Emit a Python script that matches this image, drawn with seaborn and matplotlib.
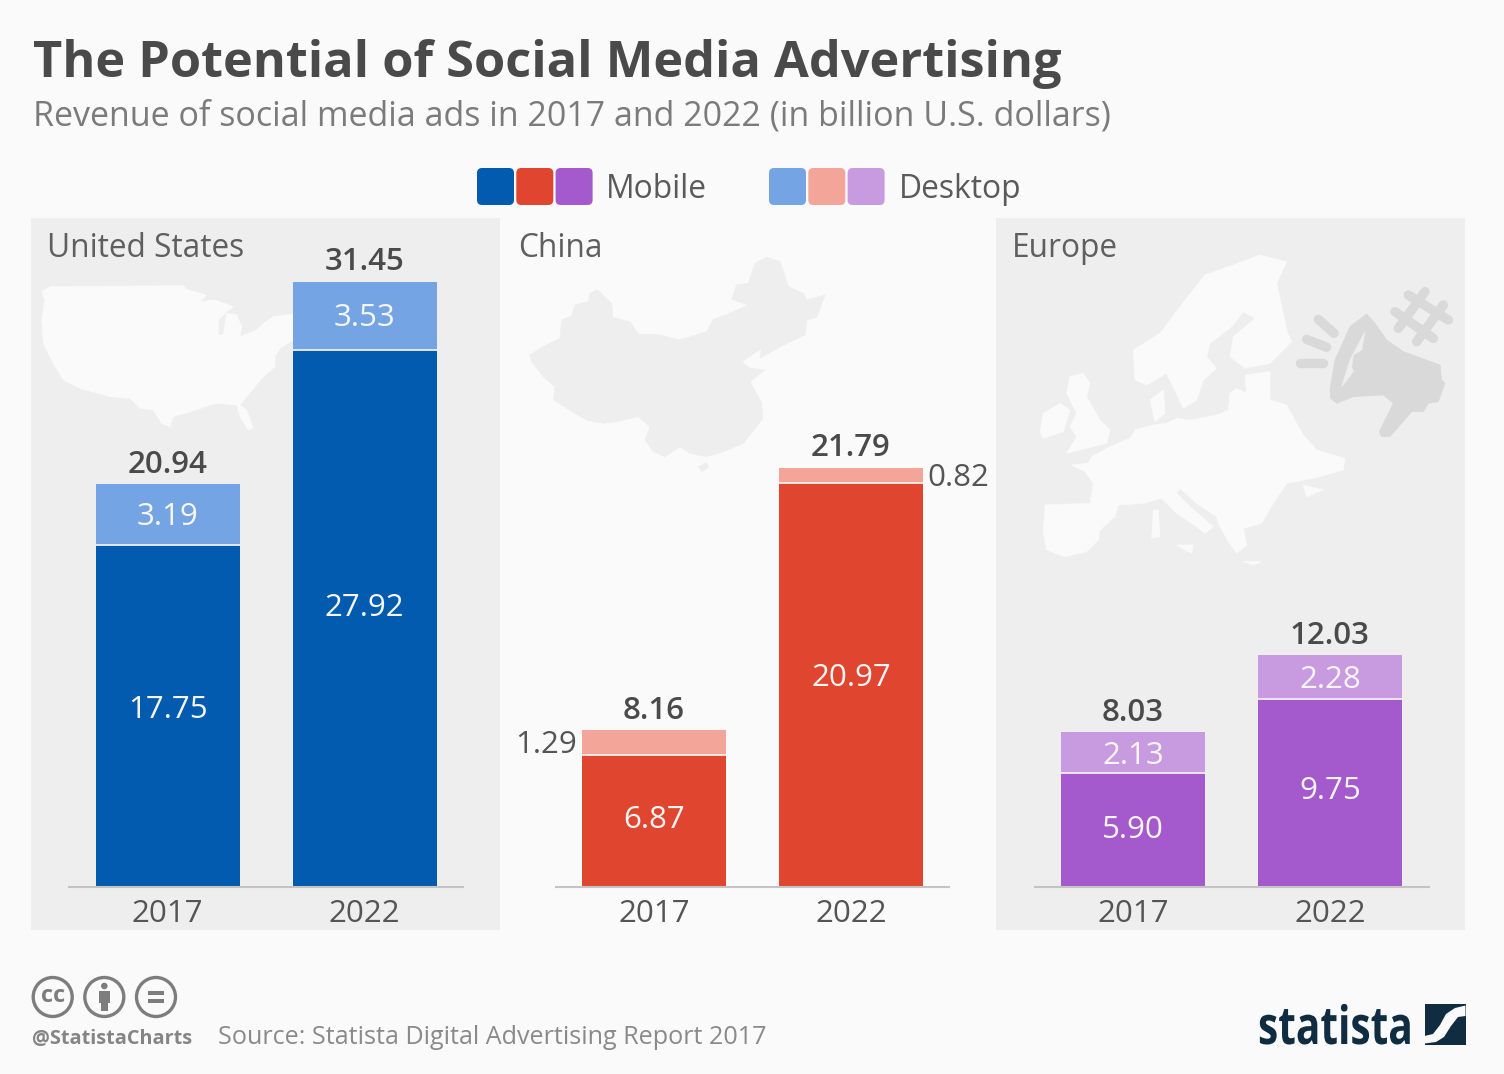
import numpy as np
import pandas as pd
import matplotlib
matplotlib.use("Agg")
import matplotlib.pyplot as plt
from matplotlib.patches import Circle, FancyBboxPatch, Polygon, Rectangle
from matplotlib.patheffects import AbstractPathEffect
from matplotlib.transforms import Affine2D
import seaborn as sns

# chart values, billion USD
years = ["2017", "2022"]
us_mobile = [17.75, 27.92]
us_desktop = [3.19, 3.53]
us_total = [20.94, 31.45]
china_mobile = [6.87, 20.97]
china_desktop = [1.29, 0.82]
china_total = [8.16, 21.79]
europe_mobile = [5.90, 9.75]
europe_desktop = [2.13, 2.28]
europe_total = [8.03, 12.03]

regions = ["United States", "China", "Europe"]
mobile_colors = ["#035bb0", "#e0462f", "#a45acc"]
desktop_colors = ["#74a4e3", "#f3a59a", "#c89be0"]

BG = "#fafafa"
PANEL = "#eeeeee"
DARK = "#4a4a4a"
GREY = "#7b7b7b"
W, H = 1504, 1074

# map outlines, in 3x crop coordinates
us_map = [(35,215),(60,200),(460,197),(470,208),(530,225),(510,245),(555,240),(610,260),(590,275),(565,300),(565,345),(580,345),(590,280),(620,285),(635,320),(630,350),(680,330),(700,310),(730,290),(790,282),(790,360),(750,385),(735,410),(735,440),(700,470),(650,530),(630,555),(650,570),(670,625),(655,630),(630,590),(620,555),(560,550),(480,575),(430,590),(420,620),(395,610),(370,570),(330,565),(300,535),(240,530),(150,505),(100,480),(70,430),(40,370),(35,300),(45,240)]
china_map = [(60,375),(100,350),(150,325),(155,270),(185,258),(195,225),(235,215),(240,190),(262,180),(305,220),(308,262),(360,275),(385,312),(450,315),(510,330),(590,305),(610,268),(660,250),(715,225),(665,208),(680,165),(715,160),(735,100),(770,82),(810,95),(835,170),(880,190),(890,210),(945,195),(920,262),(890,270),(885,315),(820,345),(750,385),(755,355),(695,395),(720,415),(765,420),(720,455),(755,520),(758,565),(700,640),(640,665),(590,680),(540,670),(510,650),(465,680),(430,665),(405,630),(420,590),(385,560),(320,575),(280,580),(230,570),(180,540),(130,510),(135,470),(100,440),(65,395)]
hainan = [(565,710),(590,698),(595,712),(575,725)]
europe_main = [(155,675),(205,670),(215,650),(270,620),(330,595),(345,570),(400,555),(440,550),(470,535),(510,540),(590,525),(625,510),(630,460),(650,445),(680,460),(675,405),(750,395),(750,480),(800,495),(835,560),(850,585),(890,630),(975,655),(970,690),(900,710),(830,725),(800,730),(760,790),(725,850),(670,865),(680,915),(650,940),(625,905),(595,850),(590,830),(530,790),(480,745),(470,760),(510,800),(580,860),(555,880),(530,860),(470,820),(425,775),(370,790),(295,795),(285,830),(240,870),(235,900),(200,935),(135,950),(80,930),(70,880),(75,795),(210,790),(220,730),(195,695)]
scandinavia = [(340,330),(420,280),(480,200),(555,105),(640,75),(720,45),(800,65),(770,130),(790,220),(800,270),(815,305),(750,370),(675,385),(630,350),(640,290),(705,235),(670,215),(635,260),(570,310),(560,350),(590,385),(550,420),(530,480),(490,505),(440,400),(380,435),(345,420)]
europe_bits = [
    [(150,410),(190,400),(210,430),(200,470),(240,540),(270,570),(260,610),(200,625),(140,640),(170,590),(150,560),(170,520),(140,460)],
    [(70,520),(120,490),(150,510),(130,575),(70,595),(60,575)],
    [(390,480),(430,450),(435,520),(405,545)],
    [(400,810),(415,810),(420,890),(395,895)],
    [(470,915),(520,915),(515,940)],
    [(850,735),(910,750),(860,770)],
    [(670,965),(725,965),(700,975)],
]
horn = [(930,450),(945,360),(990,260),(1040,222),(1065,250),(1100,300),(1150,335),(1260,375),(1265,420),(1275,430),(1255,485),(1225,490),(1210,515),(1175,515),(1110,590),(1085,590),(1078,575),(1120,490),(1090,465),(1000,470),(950,490),(932,475)]
horn_hole = [(965,440),(990,360),(1035,275),(1025,330),(1000,345),(995,380),(1000,395)]

sns.set_theme(style="white")
plt.rcParams["font.family"] = ["Open Sans", "DejaVu Sans"]
plt.rcParams["axes.unicode_minus"] = False

fig = plt.figure(figsize=(W / 100, H / 100), dpi=100, facecolor=BG)


class SqueezeX(AbstractPathEffect):
    # narrows a text around x0, no condensed font is installed
    def __init__(self, x0, factor):
        super().__init__()
        self.x0 = x0
        self.factor = factor

    def draw_path(self, renderer, gc, tpath, affine, rgbFace=None):
        squeeze = Affine2D().translate(-self.x0, 0).scale(self.factor, 1).translate(self.x0, 0)
        renderer.draw_path(gc, tpath, affine + squeeze, rgbFace)


def px_axes(left, top, right, bottom):
    return fig.add_axes([left / W, 1 - bottom / H, (right - left) / W, (bottom - top) / H])


# background layer in pixel coordinates
bg = px_axes(0, 0, W, H)
bg.set_xlim(0, W)
bg.set_ylim(H, 0)
bg.axis("off")


def crop_poly(points, x0, y0, color, z=1):
    pts = [(x0 + x / 3, y0 + y / 3) for x, y in points]
    bg.add_patch(Polygon(pts, closed=True, fc=color, ec=color, lw=0.5, zorder=z))


bg.add_patch(Rectangle((31, 218), 469, 712, fc=PANEL, ec="none", zorder=0))
bg.add_patch(Rectangle((996, 218), 469, 712, fc=PANEL, ec="none", zorder=0))

crop_poly(us_map, 30, 220, BG)
crop_poly(china_map, 510, 230, PANEL)
crop_poly(hainan, 510, 230, PANEL)
crop_poly(europe_main, 1020, 240, BG)
crop_poly(scandinavia, 1020, 240, BG)
for bit in europe_bits:
    crop_poly(bit, 1020, 240, BG)

# megaphone and hashtag
ICON = "#d9d9d9"
crop_poly(horn, 1020, 240, ICON, z=2)
crop_poly(horn_hole, 1020, 240, PANEL, z=3)
for (xa, ya), (xb, yb) in [((895, 238), (942, 280)), ((860, 298), (920, 322)), ((840, 370), (910, 370)),
                           ((1125, 215), (1240, 295)), ((1165, 165), (1285, 240)),
                           ((1215, 155), (1135, 265)), ((1270, 195), (1190, 305))]:
    bg.plot([1020 + xa / 3, 1020 + xb / 3], [240 + ya / 3, 240 + yb / 3], color=ICON, lw=6.8,
            solid_capstyle="round", zorder=2)

# title block
bg.text(33, 64, "The Potential of Social Media Advertising", fontsize=36.35, fontweight="bold",
        color=DARK, va="center", ha="left")
bg.text(33, 116.5, "Revenue of social media ads in 2017 and 2022 (in billion U.S. dollars)", fontsize=24.45,
        color=GREY, va="center", ha="left")

# legend swatches
for x_start, colors, label, x_label in [(477, mobile_colors, "Mobile", 606), (769, desktop_colors, "Desktop", 899)]:
    for i, c in enumerate(colors):
        bg.add_patch(FancyBboxPatch((x_start + 3 + i * 39.3, 171), 31, 31, boxstyle="round,pad=3,rounding_size=5",
                                    fc=c, ec="none", zorder=2))
    bg.text(x_label, 190, label, fontsize=22.9, color="#5a5a5a", va="center", ha="left")

# bar panels
PX_PER_UNIT = 19.25
BAR_STEP = 197
BASELINE = 887
title_offsets = [16, 18.5, 16]
panels = [
    (31, 500, 167.6, us_mobile, us_desktop, us_total),
    (500, 996, 654, china_mobile, china_desktop, china_total),
    (996, 1465, 1133, europe_mobile, europe_desktop, europe_total),
]
LABEL_SIZE = 22.5

for i, (left, right, first_center, mobile, desktop, total) in enumerate(panels):
    ax = px_axes(left, 218, right, 930)
    ax.patch.set_alpha(0)
    df = pd.DataFrame({"year": years, "mobile": mobile, "desktop": desktop, "total": total})
    sns.barplot(data=df, x="year", y="total", color=desktop_colors[i], saturation=1, width=0.731, linewidth=0, ax=ax)
    sns.barplot(data=df, x="year", y="mobile", color=mobile_colors[i], saturation=1, width=0.731, linewidth=0, ax=ax)
    ax.set_xlim((left - first_center) / BAR_STEP, (right - first_center) / BAR_STEP)
    ax.set_ylim((BASELINE - 930) / PX_PER_UNIT, (BASELINE - 218) / PX_PER_UNIT)
    sns.despine(ax=ax, left=True)
    ax.spines["bottom"].set_position(("data", 0))
    ax.spines["bottom"].set_bounds(-0.5, 1.5)
    ax.spines["bottom"].set_color("#c4c4c4")
    ax.spines["bottom"].set_linewidth(1.5)
    ax.spines["bottom"].set_zorder(5)
    ax.set_xlabel("")
    ax.set_ylabel("")
    ax.set_yticks([])
    ax.tick_params(axis="x", length=0, pad=9, labelsize=LABEL_SIZE, labelcolor="#555555")
    ax.hlines(mobile, [-0.3655, 0.6345], [0.3655, 1.3655], color="#f0f0f0", lw=1.3, zorder=5)

    ax.text(title_offsets[i] / (right - left), 0.9625, regions[i], transform=ax.transAxes,
            fontsize=22.8, color="#5f5f5f", ha="left", va="center_baseline")

    for j in range(2):
        ax.annotate(f"{total[j]:.2f}", (j, total[j]), xytext=(0, 3), textcoords="offset points", ha="center",
                    va="bottom", fontsize=LABEL_SIZE, fontweight="semibold", color=DARK)
        ax.annotate(f"{mobile[j]:.2f}", (j, mobile[j] * 0.525), xytext=(0, -2), textcoords="offset points",
                    ha="center", va="center", fontsize=LABEL_SIZE, color="#f6f6f6")
        d_y = mobile[j] + desktop[j] / 2
        if i == 1:
            side = -1 if j == 0 else 1
            ax.annotate(f"{desktop[j]:.2f}", (j + side * 0.3655, d_y), xytext=(side * 3.5, -2),
                        textcoords="offset points", ha="right" if j == 0 else "left", va="center",
                        fontsize=LABEL_SIZE, color="#555555")
        else:
            ax.annotate(f"{desktop[j]:.2f}", (j, d_y), xytext=(0, -2), textcoords="offset points",
                        ha="center", va="center", fontsize=LABEL_SIZE, color="#f6f6f6")

# licence icons
CC = "#7d7d7d"
for cx in [52.7, 104.3, 156]:
    bg.add_patch(Circle((cx, 997), 19.5, fc="none", ec=CC, lw=2.4, zorder=2))
bg.text(52.7, 996, "cc", fontsize=17, fontweight="bold", color=CC, ha="center", va="center")
bg.add_patch(Circle((104.3, 986), 3.3, fc=CC, ec="none"))
bg.add_patch(Rectangle((98.5, 991), 11.6, 12, fc=CC, ec="none"))
bg.add_patch(Rectangle((101, 1003), 6.6, 8, fc=CC, ec="none"))
bg.add_patch(Rectangle((148, 991), 16, 4, fc=CC, ec="none"))
bg.add_patch(Rectangle((148, 999), 16, 4, fc=CC, ec="none"))

# footer
bg.text(32, 1039, "@StatistaCharts", fontsize=14.3, fontweight="bold", color="#858585", va="center", ha="left")
bg.text(218, 1038, "Source: Statista Digital Advertising Report 2017", fontsize=18.05, color="#8a8a8a", va="center",
        ha="left")

# statista logo
LOGO = "#0f2c41"
bg.text(1258, 1044, "statista", fontsize=38, fontweight="bold", color=LOGO, ha="left", va="baseline",
        path_effects=[SqueezeX(1258, 0.77)])
bg.add_patch(Rectangle((1424.5, 1004), 41, 41, fc=LOGO, ec="none", zorder=2))
swoosh = [(1424.5, 1036), (1433, 1034), (1440, 1025), (1446, 1014), (1455, 1008), (1465.5, 1005.5),
          (1465.5, 1016), (1458, 1017), (1451, 1026), (1444, 1037), (1436, 1042), (1424.5, 1043.5)]
bg.add_patch(Polygon(swoosh, closed=True, fc=BG, ec="none", zorder=3))

fig.savefig("out.png", dpi=100, facecolor=BG)
